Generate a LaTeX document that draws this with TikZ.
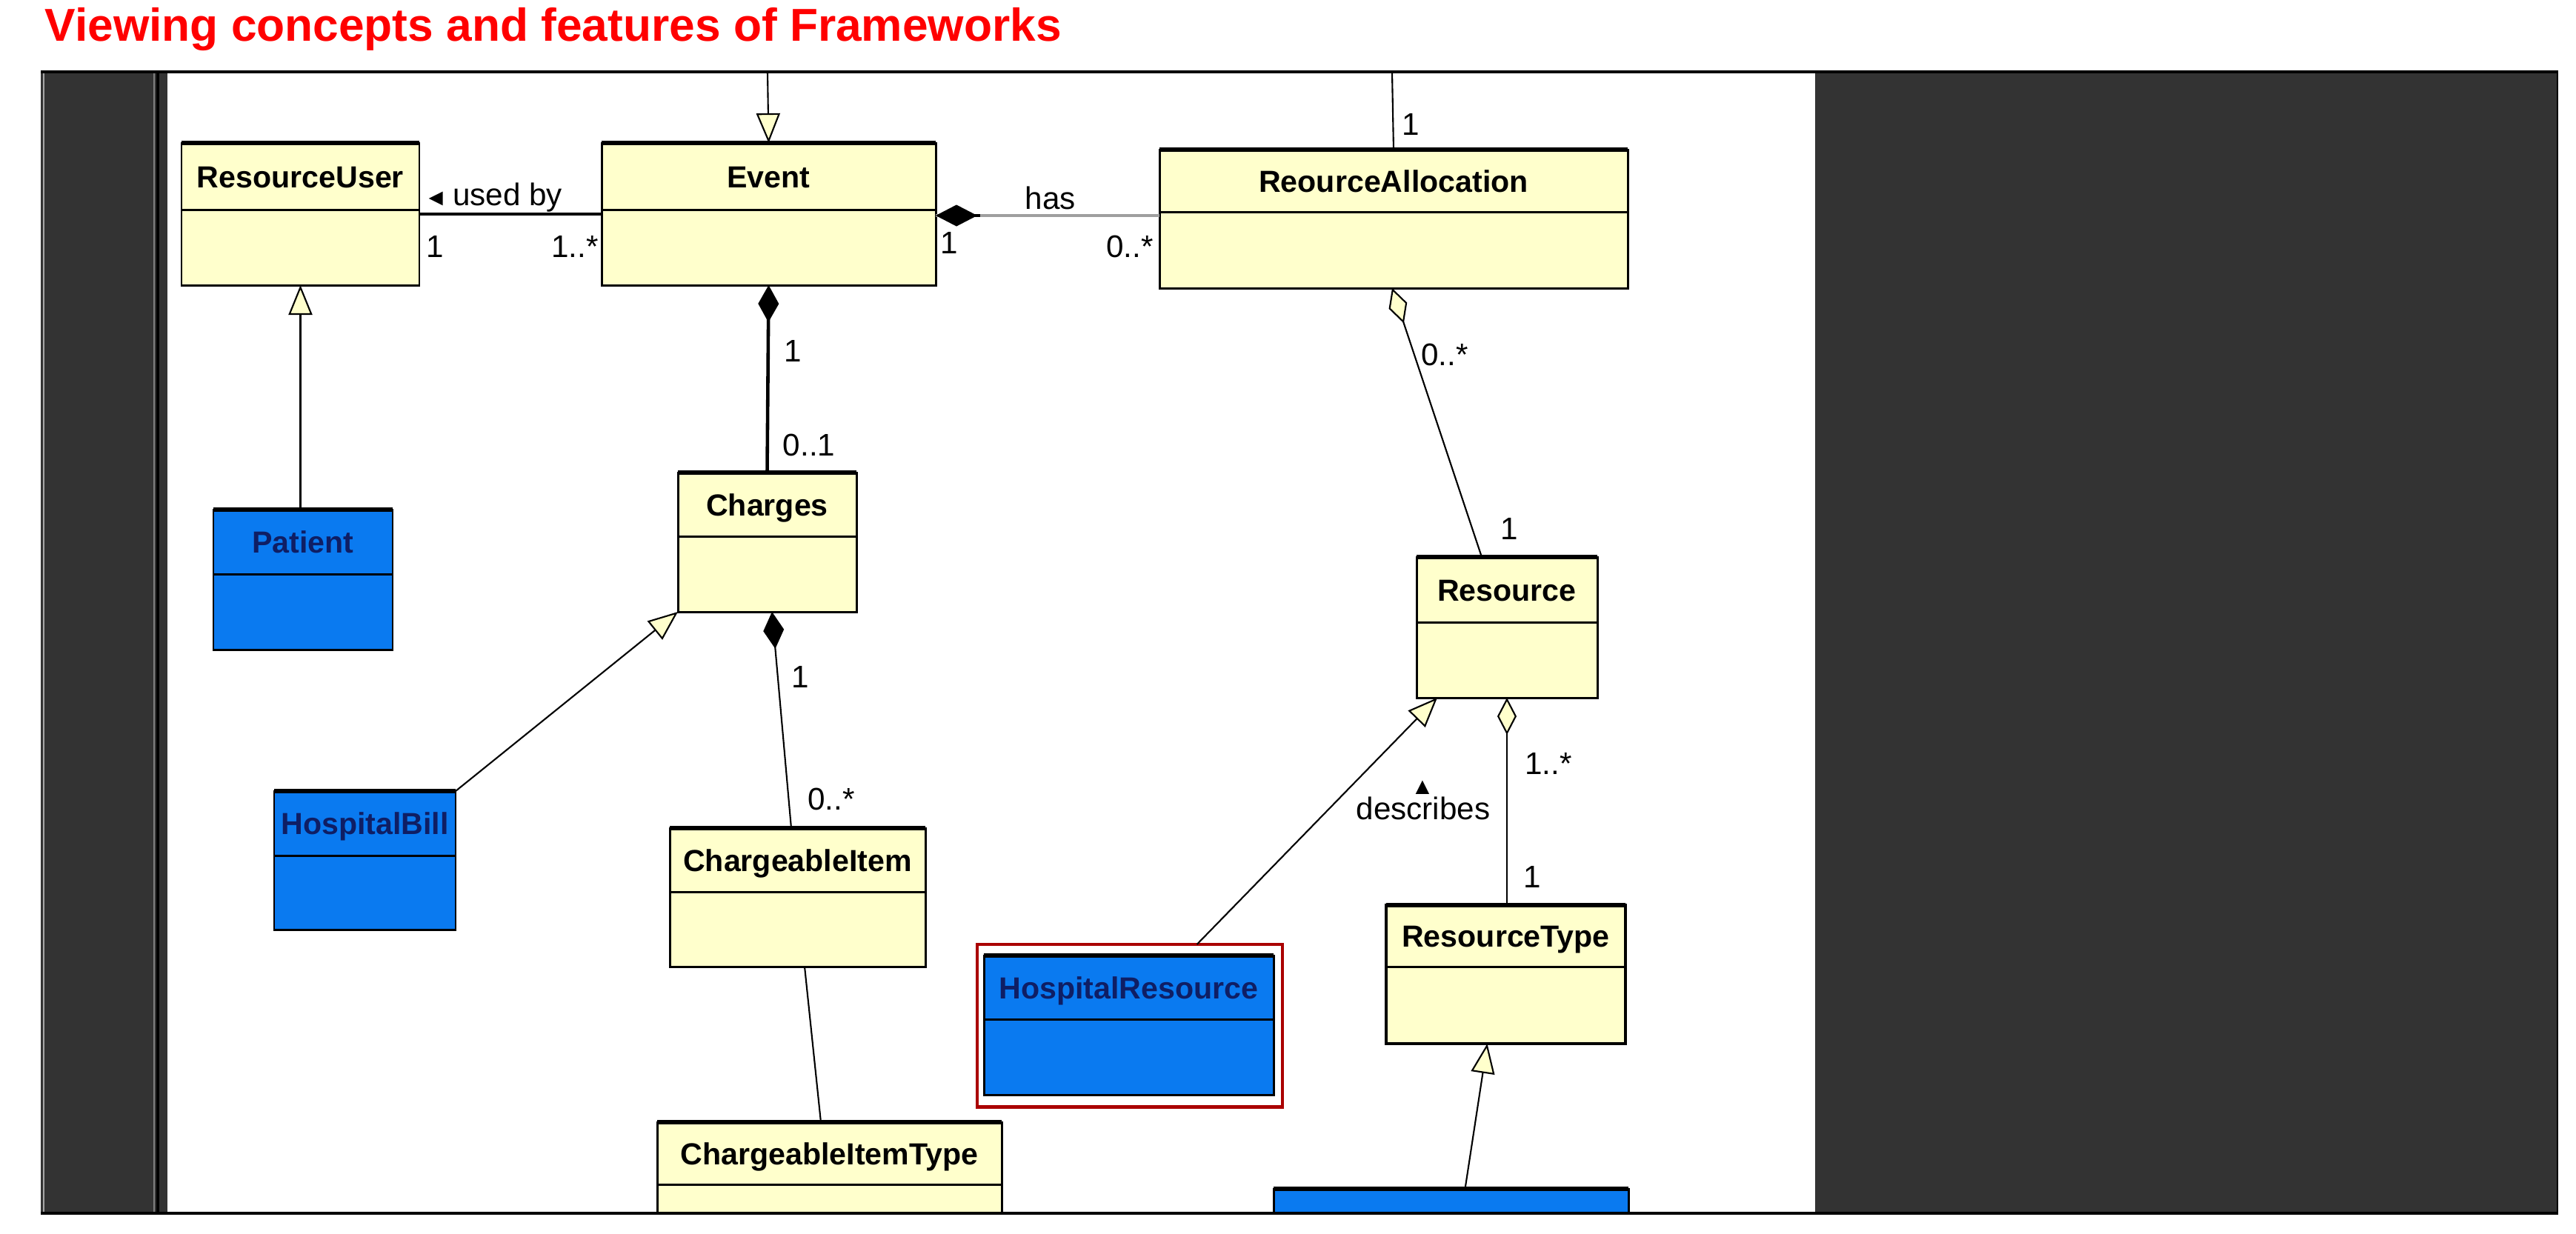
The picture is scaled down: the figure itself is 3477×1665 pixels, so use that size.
\documentclass[tikz,border=0pt]{standalone}
\usepackage{fontspec}
\setmainfont{Liberation Sans}
\usetikzlibrary{arrows.meta,fit}

\definecolor{umlyellow}{RGB}{255,255,204}
\definecolor{umlblue}{RGB}{10,122,240}
\definecolor{umlnavy}{RGB}{15,30,100}
\definecolor{umlred}{RGB}{170,0,0}
\definecolor{titlered}{RGB}{255,0,0}
\definecolor{darkpanel}{RGB}{51,51,51}

\begin{document}
\begin{tikzpicture}[x=0.01cm, y=-0.01cm,
    classbox/.style={draw, line width=0.85pt, inner sep=0pt, outer sep=0pt},
    topedge/.style={line width=1.5pt},
    divider/.style={line width=0.85pt},
    classname/.style={anchor=base, inner sep=0pt, font=\fontsize{11.7pt}{14pt}\selectfont\bfseries},
    mult/.style={anchor=base, inner sep=0pt, font=\fontsize{12pt}{14pt}\selectfont},
    genline/.style={line width=0.6pt, -{Triangle[fill=umlyellow, length=0.4cm, width=0.32cm]}},
    aggline/.style={line width=0.6pt, {Diamond[fill=umlyellow, length=0.5cm, width=0.26cm]}-},
    compline/.style={{Diamond[fill=black, length=0.5cm, width=0.28cm]}-},
]
    \useasboundingbox (0,0) rectangle (3477,1665);
    \fill[white] (0,0) rectangle (3477,1665);

    % titre
    \node[anchor=base west, inner sep=0pt, text=titlered,
          font=\fontsize{17.7pt}{20pt}\selectfont\bfseries] (title) at (60,55)
          {Viewing concepts and features of Frameworks};

    % cadre de la fenetre
    \fill[darkpanel] (55,97) rectangle (226,1638);
    \fill[darkpanel] (2450,97) rectangle (3453,1638);
    \draw[gray!70, line width=0.4pt] (59,97) -- (59,1638);
    \draw[gray, line width=0.5pt] (208,97) -- (208,1638);
    \draw[black, line width=0.9pt] (213,97) -- (213,1638);

    \begin{scope}
        \clip (226,97) rectangle (2450,1638);

        % classes
        \foreach \nm/\fc/\tc/\l/\t/\r/\b/\d/\txt in {
            resuser/umlyellow/black/245/193/566/385/283/ResourceUser,
            event/umlyellow/black/812/193/1263/385/283/Event,
            resalloc/umlyellow/black/1565/202/2197/389/286/ReourceAllocation,
            charges/umlyellow/black/915/638/1156/826/724/Charges,
            patient/umlblue/umlnavy/288/688/530/877/775/Patient,
            hospbill/umlblue/umlnavy/370/1068/615/1255/1155/HospitalBill,
            chitem/umlyellow/black/904/1118/1249/1305/1204/ChargeableItem,
            chitemtype/umlyellow/black/887/1515/1352/1700/1599/ChargeableItemType,
            resource/umlyellow/black/1912/752/2156/942/840/Resource,
            hospres/umlblue/umlnavy/1328/1290/1719/1478/1376/HospitalResource,
            restype/umlyellow/black/1871/1222/2194/1409/1305/ResourceType,
            resblue/umlblue/umlnavy/1719/1605/2198/1700/1690/{}}{
            \node[classbox, fill=\fc, fit={(\l,\t) (\r,\b)}] (\nm) {};
            \draw[divider] (\l,\d) -- (\r,\d);
            \draw[topedge] (\l,\t) -- (\r,\t);
            \node[classname, text=\tc] (\nm-name) at ({(\l+\r)/2},{(\t+\d)/2+15}) {\txt};
        }
        \draw[line width=1.4pt] (restype.north west) rectangle (restype.south east);
        \draw[umlred, line width=1.4pt] ([shift={(-0.09cm,0.15cm)}]hospres.north west)
            rectangle ([shift={(0.12cm,-0.16cm)}]hospres.south east);

        % liens
        \coordinate (evtop) at (1036,97);
        \coordinate (ratop) at (1879,97);
        \draw[genline] (evtop) -- (event.north);
        \draw[line width=0.6pt] (ratop) -- (resalloc.north);
        \draw[line width=1.4pt] (resuser.east) -- (event.west);
        \draw[line width=1.2pt, gray!75] ([yshift=-0.02cm]event.east) -- ([yshift=-0.02cm]event.east -| resalloc.west);
        \draw[{Diamond[fill=black, length=0.56cm, width=0.29cm]}-, line width=1.2pt] ([yshift=-0.02cm]event.east) -- ++(60,0);
        \draw[compline, line width=1.3pt] (event.south) -- (charges.north);
        \draw[compline, line width=0.6pt] ([xshift=0.065cm]charges.south) -- ([xshift=-0.085cm]chitem.north);
        \draw[line width=0.6pt] ([xshift=0.095cm]chitem.south) -- ([xshift=-0.115cm]chitemtype.north);
        \draw[genline] (hospbill.north east) -- (charges.south west);
        \draw[genline] (resuser.south |- patient.north) -- (resuser.south);
        \draw[aggline] ([xshift=-0.02cm]resalloc.south) -- ([xshift=-0.34cm]resource.north);
        \draw[aggline] (resource.south) -- (resource.south |- restype.north);
        \draw[genline] ([xshift=0.92cm, yshift=0.15cm]hospres.north) -- ([xshift=0.28cm]resource.south west);
        \draw[genline] ([xshift=0.19cm]resblue.north) -- ([xshift=-0.25cm]restype.south);

        % multiplicites
        \node[mult, anchor=base west] (usedby) at (572,277) {{\fontsize{9pt}{10pt}\selectfont ◄}\,used by};
        \node[mult] (usedby-1) at (587,347) {1};
        \node[mult] (usedby-n) at (776,347) {1..*};
        \node[mult] (has) at (1418,282) {has};
        \node[mult] (has-1) at (1281,342) {1};
        \node[mult] (has-n) at (1525,347) {0..*};
        \node[mult] (ratop-1) at (1904,182) {1};
        \node[mult] (evch-1) at (1070,488) {1};
        \node[mult] (evch-n) at (1092,615) {0..1};
        \node[mult] (chit-1) at (1080,928) {1};
        \node[mult] (chit-n) at (1122,1093) {0..*};
        \node[mult] (rares-n) at (1950,493) {0..*};
        \node[mult] (rares-1) at (2037,728) {1};
        \node[mult] (resty-n) at (2090,1045) {1..*};
        \node[mult] (resty-1) at (2068,1198) {1};
        \node[mult] (describes) at (1921,1106) {describes};
        \node[mult, font=\fontsize{9pt}{10pt}\selectfont] (describes-dir) at (1920,1072) {▲};
    \end{scope}

    \draw[line width=1pt] (55,97) -- (3453,97);
    \draw[line width=1pt] (55,1638) -- (3453,1638);
    \draw[line width=0.6pt] (3452,97) -- (3452,1638);
\end{tikzpicture}
\end{document}
